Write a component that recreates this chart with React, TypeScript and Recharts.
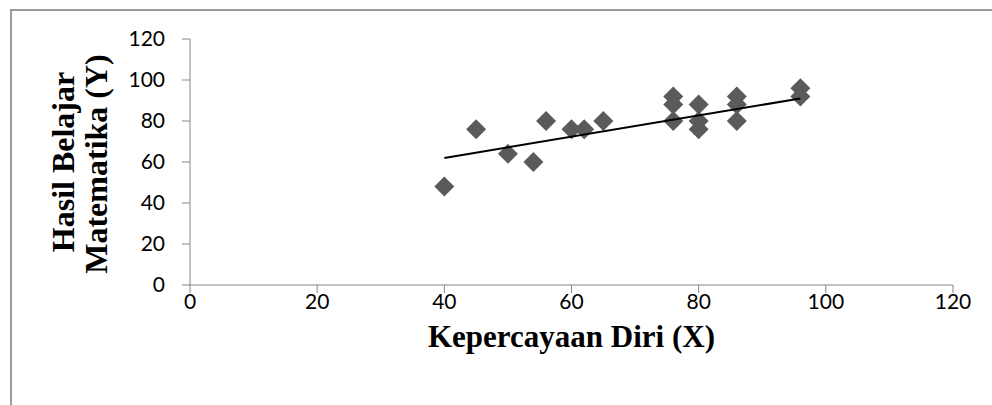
import { Scatter, ScatterChart, XAxis, YAxis } from "recharts";

const confidence = [40, 45, 50, 54, 56, 60, 62, 65, 76, 76, 76, 80, 80, 80, 86, 86, 86, 96, 96];
const mathScore = [48, 76, 64, 60, 80, 76, 76, 80, 92, 88, 80, 88, 80, 76, 92, 88, 80, 96, 92];
const trendX = [40, 96];
const trendY = [62, 91];
const axisTicks = [0, 20, 40, 60, 80, 100, 120];

const points = confidence.map((x, i) => ({ x, y: mathScore[i] }));
const trend = trendX.map((x, i) => ({ x, y: trendY[i] }));

const axisColor = "#868686";
const tickFont = { fill: "#000", fontSize: 21, fontFamily: "Lato, 'Open Sans', sans-serif" };
const titleFont = "'Liberation Serif', 'Times New Roman', serif";

function Diamond(props: { cx?: number; cy?: number }) {
  const { cx = 0, cy = 0 } = props;
  const r = 10;
  return (
    <polygon
      points={`${cx},${cy - r} ${cx + r},${cy} ${cx},${cy + r} ${cx - r},${cy}`}
      fill="#5a5a5a"
    />
  );
}

function XTitle(props: any) {
  const { viewBox } = props;
  return (
    <text
      x={viewBox.x + viewBox.width / 2}
      y={viewBox.y + 62}
      textAnchor="middle"
      fontFamily={titleFont}
      fontWeight="bold"
      fontSize={31}
      fill="#000"
    >
      Kepercayaan Diri (X)
    </text>
  );
}

function YTitle(props: any) {
  const { viewBox } = props;
  const cy = viewBox.y + viewBox.height / 2;
  return (
    <g fontFamily={titleFont} fontWeight="bold" fontSize={32} fill="#000">
      <text transform={`translate(74, ${cy}) rotate(-90)`} textAnchor="middle">
        Hasil Belajar
      </text>
      <text transform={`translate(107, ${cy + 2}) rotate(-90)`} textAnchor="middle">
        Matematika (Y)
      </text>
    </g>
  );
}

export default function App() {
  return (
    <div style={{ position: "absolute", left: 0, top: 0, width: 992, height: 405, background: "#fff" }}>
      <div
        style={{
          position: "absolute",
          left: 10,
          top: 9,
          right: 0,
          bottom: 0,
          borderTop: "2px solid #9a9a9a",
          borderLeft: "2px solid #9a9a9a",
        }}
      />
      <div style={{ position: "absolute", left: 0, top: 0 }}>
        <ScatterChart width={992} height={405} margin={{ top: 39, right: 39, left: 0, bottom: 0 }}>
          <XAxis
            type="number"
            dataKey="x"
            domain={[0, 120]}
            ticks={axisTicks}
            stroke={axisColor}
            tickSize={8}
            tickMargin={1}
            tick={tickFont}
            height={120}
            label={<XTitle />}
          />
          <YAxis
            type="number"
            dataKey="y"
            domain={[0, 120]}
            ticks={axisTicks}
            stroke={axisColor}
            tickSize={8}
            tickMargin={17}
            tick={tickFont}
            width={190}
            label={<YTitle />}
          />
          <Scatter data={points} shape={<Diamond />} isAnimationActive={false} />
          <Scatter
            data={trend}
            line={{ stroke: "#000", strokeWidth: 2 }}
            shape={() => <g />}
            isAnimationActive={false}
          />
        </ScatterChart>
      </div>
    </div>
  );
}
